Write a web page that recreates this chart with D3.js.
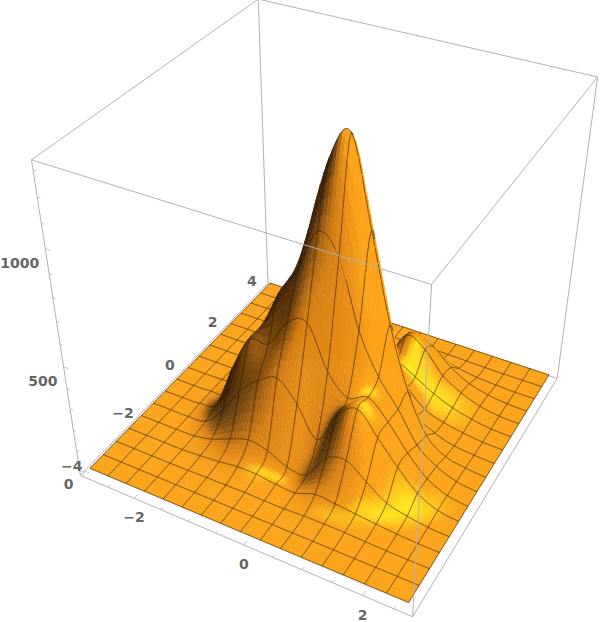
<!DOCTYPE html>
<html><head><meta charset="utf-8">
<style>html,body{margin:0;padding:0;background:#fff}svg{display:block}text{font-family:"DejaVu Sans";font-weight:bold;font-size:14px;fill:#666}</style>
<script src="https://cdn.jsdelivr.net/npm/d3@7/dist/d3.min.js"></script>
</head><body><svg id="c" width="600" height="622"></svg>
<script>
const xNodes=[-2.92,-2.57,-2.22,-1.87,-1.52,-1.17,-0.82,-0.48,-0.13,0.22,0.57,0.92,1.27,1.62,1.97,2.32,2.67];
const yNodes=[-4,-3.5,-3,-2.5,-2,-1.5,-1,-0.5,0,0.5,1,1.5,2,2.5,3,3.5,4];
// heights read at mesh crossings; one row per y node
const zRows=[
[0,0,0,0,0,0,0,0,0,0,0,0,0,0,0,0,0],
[0,0,0,0,0,0,0,0,0,0,0,0,0,0,0,0,0],
[0,0,0,0,1,3,4,6,4,4,8,9,8,5,2,1,0],
[0,0,0,0,6,14,26,26,14,10,42,35,25,15,7,2,0],
[0,0,0,3,22,60,92,74,30,28,150,177,110,45,20,5,0],
[0,0,0,12,100,235,315,364,273,135,291,355,255,150,60,14,0],
[0,0,4,35,250,420,430,560,590,400,310,346,264,150,60,15,0],
[0,0,4,20,180,380,610,740,930,850,560,380,260,120,50,12,0],
[0,0,3,14,64,191,464,850,1180,1300,940,560,280,100,30,10,0],
[0,0,0,13,56,181,428,740,1000,900,620,330,110,45,15,5,0],
[0,0,0,9,36,107,237,382,460,380,260,150,65,32,14,3,0],
[0,0,0,0,14,36,75,114,132,146,177,132,80,42,18,4,0],
[0,0,0,0,0,0,13,20,27,98,250,209,110,55,20,4,0],
[0,0,0,0,0,0,0,0,7,66,193,164,90,40,15,3,0],
[0,0,0,0,0,0,0,0,0,18,55,48,25,10,4,0,0],
[0,0,0,0,0,0,0,0,0,0,6,5,3,1,0,0,0],
[0,0,0,0,0,0,0,0,0,0,0,0,0,0,0,0,0]];
const xTicks=[-3,-2.5,-2,-1.5,-1,-0.5,0,0.5,1,1.5,2,2.5];
const yTicks=[-4,-3,-2,-1,0,1,2,3,4];
const zTicks=[0,100,200,300,400,500,600,700,800,900,1000,1100,1200,1300];
const xLabels=[-2,0,2], yLabels=[-4,-2,0,2,4], zLabels=[0,500,1000];
const zClip=1310;

const xs=d3.scaleLinear().domain([-3.04,2.79]).range([0,1]);
const ys=d3.scaleLinear().domain([-4.16,4.16]).range([0,1]);
const zs=d3.scaleLinear().domain([-27,1337]).range([0,1]);

const cam=[[0,0,0,81,477],[1,0,0,412,616],[1,1,0,557,380],[0,1,0,268,281],
           [0,0,1,31,160],[1,0,1,432,283],[1,1,1,598,77],[0,1,1,258,0]];
function solve(A,b){const n=b.length;A=A.map((r,i)=>[...r,b[i]]);
 for(let i=0;i<n;i++){let m=i;for(let k=i+1;k<n;k++)if(Math.abs(A[k][i])>Math.abs(A[m][i]))m=k;[A[i],A[m]]=[A[m],A[i]];
  for(let k=i+1;k<n;k++){const f=A[k][i]/A[i][i];for(let c=i;c<=n;c++)A[k][c]-=f*A[i][c];}}
 const x=Array(n).fill(0);for(let i=n-1;i>=0;i--){let s=A[i][n];for(let c=i+1;c<n;c++)s-=A[i][c]*x[c];x[i]=s/A[i][i];}return x;}
const rowsM=[],rhs=[];
cam.forEach(([a,b,c,X,Y])=>{rowsM.push([a,b,c,1,0,0,0,0,-X*a,-X*b,-X*c]);rhs.push(X);rowsM.push([0,0,0,0,a,b,c,1,-Y*a,-Y*b,-Y*c]);rhs.push(Y);});
const ATA=d3.range(11).map(i=>d3.range(11).map(j=>d3.sum(rowsM,r=>r[i]*r[j])));
const ATb=d3.range(11).map(i=>d3.sum(rowsM,(r,k)=>r[i]*rhs[k]));
const P=solve(ATA,ATb);
function proj(a,b,c){const w=P[8]*a+P[9]*b+P[10]*c+1;return [(P[0]*a+P[1]*b+P[2]*c+P[3])/w,(P[4]*a+P[5]*b+P[6]*c+P[7])/w,w];}
const pt=(x,y,z)=>proj(xs(x),ys(y),zs(z));

const cr=(p0,p1,p2,p3,t)=>0.5*((2*p1)+(-p0+p2)*t+(2*p0-5*p1+4*p2-p3)*t*t+(-p0+3*p1-3*p2+p3)*t*t*t);
const cl=i=>Math.max(0,Math.min(16,i));
function height(s,t){const i=Math.min(15,Math.floor(s)),j=Math.min(15,Math.floor(t)),fs=s-i,ft=t-j;
 const col=[-1,0,1,2].map(d=>{const r=zRows[cl(j+d)];return cr(r[cl(i-1)],r[i],r[i+1],r[cl(i+2)],fs);});
 return Math.max(0,Math.min(zClip,cr(col[0],col[1],col[2],col[3],ft)));}
const xi=d3.scaleLinear().domain([0,16]).range([xNodes[0],xNodes[16]]);
const yi=d3.scaleLinear().domain([0,16]).range([yNodes[0],yNodes[16]]);

const n=6,N=16*n,spread=5;
const H=d3.range(N+1).map(b=>d3.range(N+1).map(a=>height(a/n,b/n)));
const V=H.map((r,b)=>r.map((z,a)=>pt(xi(a/n),yi(b/n),z)));

const lightD=[0.74,0,0.67], lightS=[0.38,-0.38,0.84];
const ramp=d3.scaleLinear().domain([-0.3,0.0,0.3,0.67])
 .range(["#3c2005","#7c4a10","#d67e14","#fca318"]).clamp(true);
const gloss=d3.scalePow().exponent(1.4).domain([0.905,1]).range([0,1]).clamp(true);
function shadeAt(a,b){
 const a0=Math.max(0,a-spread),a1=Math.min(N,a+spread),b0=Math.max(0,b-spread),b1=Math.min(N,b+spread);
 const du=(xs(xi(a1/n))-xs(xi(a0/n))),dv=(ys(yi(b1/n))-ys(yi(b0/n)));
 const hx=(zs(H[b][a1])-zs(H[b][a0]))/du,hy=(zs(H[b1][a])-zs(H[b0][a]))/dv;
 const l=Math.hypot(hx,hy,1);
 const dot=v=>(-hx*v[0]-hy*v[1]+v[2])/l;
 return [dot(lightD),dot(lightS)];}
const yellow="#ffeb1e";

const area=q=>d3.polygonArea(q.map(p=>[p[0],p[1]]));
const quadAt=(b,a)=>[V[b][a],V[b][a+1],V[b+1][a+1],V[b+1][a]];
const faceSign=Math.sign(area(quadAt(0,0)));
const faces=(b,a)=>b>=0&&b<N&&a>=0&&a<N&&area(quadAt(b,a))*faceSign>0;

const items=[];
const line=d3.line();
const lift=0.004;
for(let b=0;b<N;b++)for(let a=0;a<N;a++){
 if(!faces(b,a))continue;
 const q=quadAt(b,a);
 const sh=[shadeAt(a,b),shadeAt(a+1,b),shadeAt(a+1,b+1),shadeAt(a,b+1)];
 const f=d3.interpolateRgb(ramp(d3.mean(sh,s=>s[0])),yellow)(gloss(d3.mean(sh,s=>s[1])));
 items.push({k:d3.mean(q,p=>p[2]),d:line(q.map(p=>[p[0],p[1]]))+"Z",f:f,m:false});
}
for(let b=0;b<=N;b+=n)for(let a=0;a<N;a++){
 if(!faces(b,a)&&!faces(b-1,a))continue;
 const s=[V[b][a],V[b][a+1]];items.push({k:d3.mean(s,p=>p[2])-lift,d:line(s.map(p=>[p[0],p[1]])),m:true});}
for(let a=0;a<=N;a+=n)for(let b=0;b<N;b++){
 if(!faces(b,a)&&!faces(b,a-1))continue;
 const s=[V[b][a],V[b+1][a]];items.push({k:d3.mean(s,p=>p[2])-lift,d:line(s.map(p=>[p[0],p[1]])),m:true});}
items.sort((p,q)=>q.k-p.k);

const svg=d3.select("#c");
const edge=(g,u,v)=>g.append("line").attr("x1",u[0]).attr("y1",u[1]).attr("x2",v[0]).attr("y2",v[1]).attr("stroke","#b2b2b2").attr("stroke-width",1);
const c=(a,b,cc)=>proj(a,b,cc);
const back=svg.append("g");
[[[0,0,0],[0,1,0]],[[0,1,0],[1,1,0]],[[0,1,0],[0,1,1]],[[0,1,1],[1,1,1]],[[0,1,1],[0,0,1]],[[1,1,0],[1,1,1]],[[1,1,1],[1,0,1]]]
 .forEach(e=>edge(back,c(...e[0]),c(...e[1])));

svg.append("g").selectAll("path").data(items).join("path")
 .attr("d",d=>d.d).attr("fill",d=>d.m?"none":d.f)
 .attr("stroke",d=>d.m?"#241806":d.f).attr("stroke-width",d=>d.m?0.65:0.5).attr("stroke-opacity",d=>d.m?0.9:1);

const front=svg.append("g");
[[[0,0,0],[1,0,0]],[[1,0,0],[1,1,0]],[[1,0,0],[1,0,1]],[[0,0,0],[0,0,1]],[[0,0,1],[1,0,1]]]
 .forEach(e=>edge(front,c(...e[0]),c(...e[1])));

const tick=(u,v)=>front.append("line").attr("x1",u[0]).attr("y1",u[1]).attr("x2",v[0]).attr("y2",v[1]).attr("stroke","#b2b2b2").attr("stroke-width",0.8);
xTicks.forEach(t=>{const L=t%2===0?0.016:0.009;tick(proj(xs(t),0,0),proj(xs(t),L,0));});
yTicks.forEach(t=>{const L=t%2===0?0.016:0.009;tick(proj(0,ys(t),0),proj(L,ys(t),0));});
zTicks.forEach(t=>{const L=t%500===0?0.016:0.009;tick(proj(0,0,zs(t)),proj(L,0,zs(t)));});

const fmt=v=>String(v).replace("-","\u2212");
const tg=svg.append("g");
tg.selectAll("text.x").data(xLabels).join("text").attr("class","x").attr("text-anchor","middle")
 .attr("x",d=>proj(xs(d),0,0)[0]).attr("y",d=>proj(xs(d),0,0)[1]+24).text(fmt);
tg.selectAll("text.y").data(yLabels).join("text").attr("class","y").attr("text-anchor","middle")
 .attr("x",d=>proj(0,ys(d),0)[0]-13).attr("y",d=>proj(0,ys(d),0)[1]).text(fmt);
tg.selectAll("text.z").data(zLabels).join("text").attr("class","z").attr("text-anchor","end")
 .attr("x",d=>proj(0,0,zs(d))[0]-6).attr("y",d=>proj(0,0,zs(d))[1]+19).text(fmt);
</script></body></html>
